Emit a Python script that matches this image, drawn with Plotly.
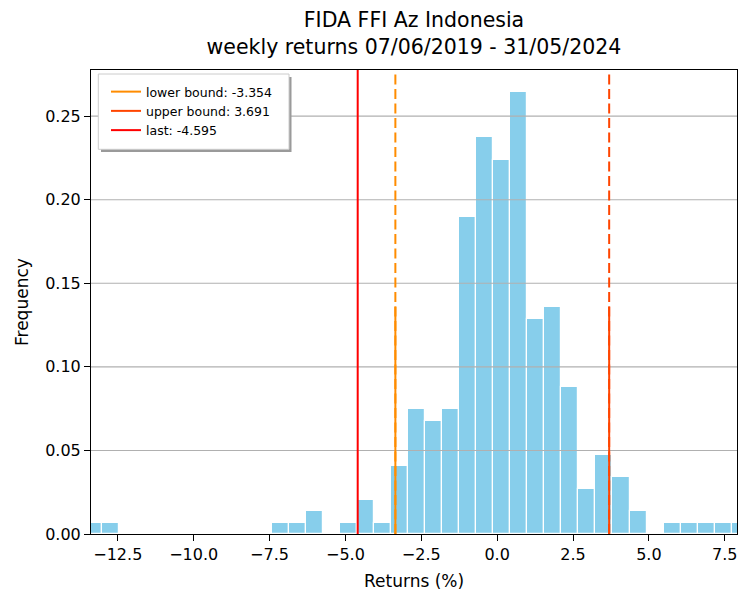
import plotly.graph_objects as go

# ---------------- data ----------------
bin_start = -13.597          # left edge of first histogram bin
bin_width = 0.5612
frequency = [0.0068, 0.0068,
             0, 0, 0, 0, 0, 0, 0, 0, 0,
             0.0068, 0.0068, 0.0136, 0, 0.0068,
             0.0203, 0.0068, 0.0407, 0.0746, 0.0678, 0.0746,
             0.1898, 0.2373, 0.2237, 0.2644,
             0.1288, 0.1356, 0.0881, 0.0271, 0.0475, 0.0339, 0.0136,
             0, 0.0068, 0.0068, 0.0068, 0.0068, 0.0068]

lower_bound = -3.354
upper_bound = 3.691
last_value = -4.595

x_range = [-13.383, 7.903]
y_max = 0.2776
x_ticks = [-12.5, -10.0, -7.5, -5.0, -2.5, 0.0, 2.5, 5.0, 7.5]
y_ticks = [0.00, 0.05, 0.10, 0.15, 0.20, 0.25]

title_line1 = "FIDA FFI Az Indonesia"
title_line2 = "weekly returns 07/06/2019 - 31/05/2024"
x_label = "Returns (%)"
y_label = "Frequency"

# ---------------- layout geometry ----------------
W, H = 739, 592
L, R, T, B = 91, 737, 70, 534          # plot area in pixels
FONT = "DejaVu Sans"


def px_x(p):
    return (p - L) / (R - L)


def px_y(p):
    return (B - p) / (B - T)


centers = [bin_start + (i + 0.5) * bin_width for i in range(len(frequency))]


def fmt_tick(v, d):
    s = f"{abs(v):.{d}f}"
    return ("\u2212" + s) if v < 0 else s


fig = go.Figure()
fig.add_trace(go.Bar(
    x=centers, y=frequency, width=bin_width,
    marker=dict(color="#87CEEB", line=dict(color="white", width=1.2)),
    showlegend=False, hoverinfo="x+y",
))

c_lower, c_upper, c_last = "#FF8C00", "#FF4500", "#FF0000"
for name, col in [(f"lower bound: {lower_bound:.3f}", c_lower),
                  (f"upper bound: {upper_bound:.3f}", c_upper),
                  (f"last: {last_value:.3f}", c_last)]:
    fig.add_trace(go.Scatter(x=[None], y=[None], mode="lines", name=name,
                             line=dict(color=col, width=2)))

shapes = []
# horizontal grid lines (drawn above the bars like the reference)
for yv in y_ticks[1:]:
    shapes.append(dict(type="line", xref="paper", yref="y", x0=0, x1=1, y0=yv, y1=yv,
                       line=dict(color="#b0b0b0", width=1.1), layer="above"))
# bound lines: dashed full height + solid lower half
for val, col in [(lower_bound, c_lower), (upper_bound, c_upper)]:
    shapes.append(dict(type="line", xref="x", yref="paper", x0=val, x1=val, y0=0, y1=1,
                       line=dict(color=col, width=2, dash="10px,4.5px"), layer="above"))
    shapes.append(dict(type="line", xref="x", yref="paper", x0=val, x1=val, y0=0, y1=0.49,
                       line=dict(color=col, width=2), layer="above"))
shapes.append(dict(type="line", xref="x", yref="paper", x0=last_value, x1=last_value, y0=0, y1=1,
                   line=dict(color=c_last, width=2), layer="above"))
# legend frame with shadow
shapes.append(dict(type="rect", xref="paper", yref="paper",
                   x0=px_x(101), x1=px_x(291.5), y0=px_y(152), y1=px_y(77),
                   fillcolor="#9a9a9a", line=dict(width=0), layer="above"))
shapes.append(dict(type="rect", xref="paper", yref="paper",
                   x0=px_x(98.3), x1=px_x(289), y0=px_y(149.3), y1=px_y(74),
                   fillcolor="white", line=dict(color="#cccccc", width=1), layer="above"))

fig.update_layout(
    width=W, height=H,
    margin=dict(l=L, r=W - R, t=T, b=H - B, pad=0),
    paper_bgcolor="white", plot_bgcolor="white",
    font=dict(family=FONT, color="black", size=16),
    bargap=0,
    shapes=shapes,
    title=dict(text=f"{title_line1}<br>{title_line2}", x=0.5, xref="paper", xanchor="center",
               y=1 - 27 / H, yref="container", yanchor="top",
               font=dict(family=FONT, size=20.5, color="black")),
    legend=dict(x=px_x(106), y=px_y(77), xanchor="left", yanchor="top",
                bgcolor="rgba(0,0,0,0)", borderwidth=0,
                font=dict(family=FONT, size=12.5, color="black"), itemwidth=30),
    annotations=[
        dict(text=x_label, xref="paper", yref="paper", x=0.5, y=px_y(581),
             xanchor="center", yanchor="middle", showarrow=False,
             font=dict(family=FONT, size=17, color="black")),
        dict(text=y_label, xref="paper", yref="paper", x=px_x(22), y=px_y(302),
             xanchor="center", yanchor="middle", textangle=-90, showarrow=False,
             font=dict(family=FONT, size=17, color="black")),
    ],
)
fig.update_xaxes(range=x_range, tickvals=x_ticks, ticktext=[fmt_tick(v, 1) for v in x_ticks],
                 ticks="outside", ticklen=6, tickwidth=1.1, tickcolor="black",
                 showline=True, mirror=True, linecolor="black", linewidth=1.1,
                 showgrid=False, zeroline=False, tickfont=dict(size=16))
fig.update_yaxes(range=[0, y_max], tickvals=y_ticks, ticktext=[fmt_tick(v, 2) for v in y_ticks],
                 ticks="outside", ticklen=6, tickwidth=1.1, tickcolor="black",
                 showline=True, mirror=True, linecolor="black", linewidth=1.1,
                 showgrid=False, zeroline=False, tickfont=dict(size=16))

fig.write_html("out.html", config={"displayModeBar": False},
               post_script="document.body.style.margin='0px';")
